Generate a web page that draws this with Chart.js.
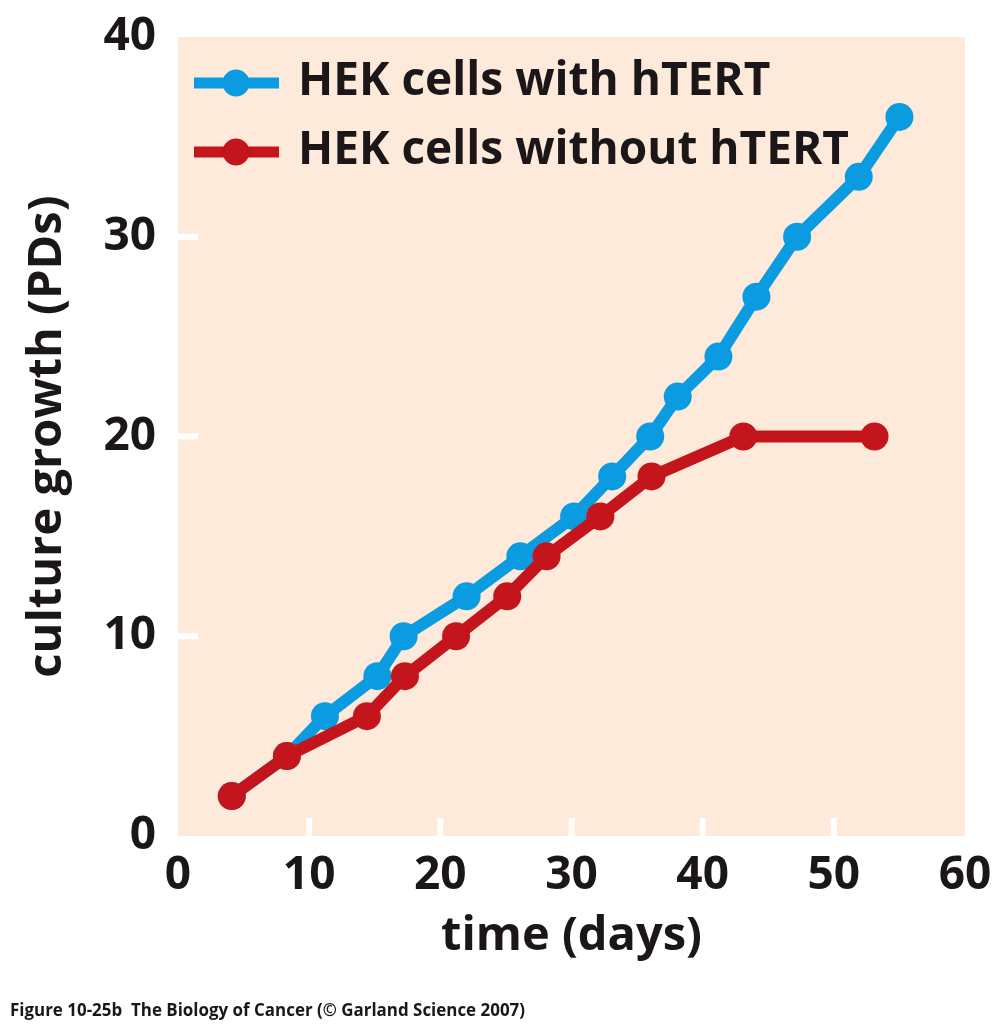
<!DOCTYPE html>
<html>
<head>
<meta charset="utf-8">
<title>HEK cells culture growth</title>
<script src="https://cdn.jsdelivr.net/npm/chart.js@4.4.1/dist/chart.umd.min.js"></script>
<style>
  html, body { margin: 0; padding: 0; background: #fff; }
  #wrap { width: 1006px; height: 1024px; position: relative; }
</style>
</head>
<body>
<div id="wrap"><canvas id="growth"></canvas></div>
<script>
// data
const daysWith = [4.1, 8.3, 11.2, 15.2, 17.2, 22.0, 26.1, 30.2, 33.1, 36.0, 38.1, 41.2, 44.1, 47.2, 51.9, 55.0];
const pdWith = [2, 4, 6, 8, 10, 12, 14, 16, 18, 20, 22, 24, 27, 30, 33, 36];
const daysWithout = [4.1, 8.3, 14.4, 17.3, 21.2, 25.1, 28.1, 32.2, 36.1, 43.1, 53.1];
const pdWithout = [2, 4, 6, 8, 10, 12, 14, 16, 18, 20, 20];
const seriesNames = ['HEK cells with hTERT', 'HEK cells without hTERT'];
const xTicks = [0, 10, 20, 30, 40, 50, 60];
const yTicks = [0, 10, 20, 30, 40];
const footerText = 'Figure 10-25b  The Biology of Cancer (\u00A9 Garland Science 2007)';

const BLUE = '#0a9be1';
const RED = '#c4151c';
const BEIGE = '#fdeada';
const INK = '#1b1718';
const FAMILY = "'Open Sans', 'DejaVu Sans', sans-serif";

const toPoints = (xs, ys) => xs.map((x, i) => ({ x: x, y: ys[i] }));

// beige plot area, white inner tick marks, legend and footer
const decor = {
  id: 'decor',
  beforeDraw(chart) {
    const { ctx, chartArea: a } = chart;
    ctx.save();
    ctx.fillStyle = BEIGE;
    ctx.fillRect(a.left, a.top, a.right - a.left, a.bottom - a.top);
    ctx.restore();
  },
  beforeDatasetsDraw(chart) {
    const { ctx, chartArea: a, scales } = chart;
    ctx.save();
    ctx.strokeStyle = '#ffffff';
    ctx.lineWidth = 6;
    xTicks.slice(1, -1).forEach(v => {
      const px = scales.x.getPixelForValue(v);
      ctx.beginPath();
      ctx.moveTo(px, a.bottom);
      ctx.lineTo(px, a.bottom - 18);
      ctx.stroke();
    });
    yTicks.slice(1, -1).forEach(v => {
      const py = scales.y.getPixelForValue(v);
      ctx.beginPath();
      ctx.moveTo(a.left, py);
      ctx.lineTo(a.left + 20, py);
      ctx.stroke();
    });
    ctx.restore();
  },
  afterDraw(chart) {
    const ctx = chart.ctx;
    const colors = [BLUE, RED];
    const rows = [83, 152];
    ctx.save();
    // legend
    ctx.font = 'bold 46px ' + FAMILY;
    const sx = 551 / ctx.measureText(seriesNames[1]).width;
    rows.forEach((y, i) => {
      ctx.strokeStyle = colors[i];
      ctx.fillStyle = colors[i];
      ctx.lineWidth = 11;
      ctx.beginPath();
      ctx.moveTo(194, y);
      ctx.lineTo(279, y);
      ctx.stroke();
      ctx.beginPath();
      ctx.arc(236, y, 13.5, 0, Math.PI * 2);
      ctx.fill();
      ctx.save();
      ctx.translate(298, y + 12);
      ctx.scale(sx, 1);
      ctx.fillStyle = INK;
      ctx.textBaseline = 'alphabetic';
      ctx.fillText(seriesNames[i], 0, 0);
      ctx.restore();
    });
    // footer
    ctx.font = 'bold 17px ' + FAMILY;
    const fx = 515 / ctx.measureText(footerText).width;
    ctx.translate(10, 1016);
    ctx.scale(fx, 1);
    ctx.fillStyle = INK;
    ctx.fillText(footerText, 0, 0);
    ctx.restore();
  }
};

new Chart(document.getElementById('growth'), {
  type: 'line',
  data: {
    datasets: [{
      label: seriesNames[0],
      data: toPoints(daysWith, pdWith),
      borderColor: BLUE,
      backgroundColor: BLUE,
      borderWidth: 12,
      pointRadius: 14,
      pointHoverRadius: 14,
      pointBorderWidth: 0,
      order: 2
    }, {
      label: seriesNames[1],
      data: toPoints(daysWithout, pdWithout),
      borderColor: RED,
      backgroundColor: RED,
      borderWidth: 12,
      pointRadius: 14,
      pointHoverRadius: 14,
      pointBorderWidth: 0,
      order: 1
    }]
  },
  options: {
    responsive: true,
    maintainAspectRatio: false,
    devicePixelRatio: 1,
    animation: false,
    layout: { padding: { top: 37, right: 41, left: 0, bottom: 0 } },
    scales: {
      x: {
        type: 'linear',
        min: xTicks[0],
        max: xTicks[xTicks.length - 1],
        afterBuildTicks: s => { s.ticks = xTicks.map(v => ({ value: v })); },
        afterFit: s => {
          s.height = 188;
          s.paddingLeft = 0; s.paddingRight = 0;
        },
        grid: { display: false },
        border: { display: false },
        ticks: {
          color: INK,
          padding: 4,
          maxRotation: 0,
          font: { family: FAMILY, weight: 'bold', size: 46 }
        },
        title: {
          display: true,
          text: 'time (days)',
          color: INK,
          padding: { top: 0, bottom: 59 },
          font: { family: FAMILY, weight: 'bold', size: 47 }
        }
      },
      y: {
        type: 'linear',
        min: yTicks[0],
        max: yTicks[yTicks.length - 1],
        afterBuildTicks: s => { s.ticks = yTicks.map(v => ({ value: v })); },
        afterFit: s => {
          s.width = 178;
          s.paddingTop = 0; s.paddingBottom = 0;
        },
        grid: { display: false },
        border: { display: false },
        ticks: {
          color: INK,
          padding: 14,
          font: { family: FAMILY, weight: 'bold', size: 46 }
        },
        title: {
          display: true,
          text: 'culture growth (PDs)',
          color: INK,
          padding: { top: 19, bottom: 0 },
          font: { family: FAMILY, weight: 'bold', size: 47 }
        }
      }
    },
    plugins: {
      legend: { display: false },
      tooltip: { enabled: false }
    }
  },
  plugins: [decor]
});
</script>
</body>
</html>
